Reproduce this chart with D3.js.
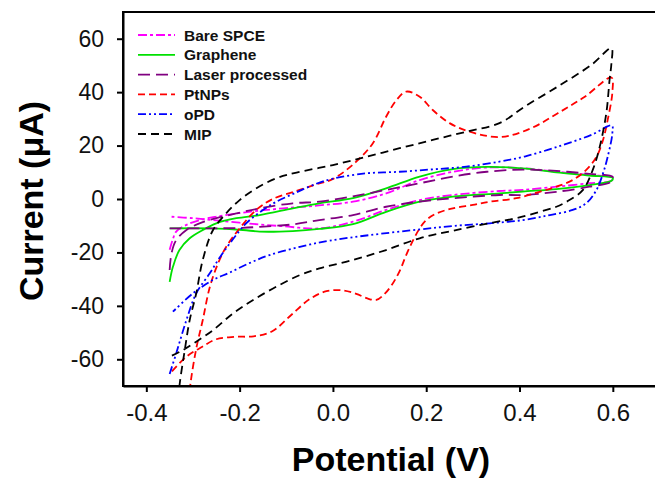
<!DOCTYPE html>
<html>
<head>
<meta charset="utf-8">
<script src="https://cdn.jsdelivr.net/npm/d3@7"></script>
<style>
  body { margin: 0; background: #fff; }
  svg { display: block; font-family: "Liberation Sans", Arial, sans-serif; }
  .axis text { font-size: 23px; fill: #111; }
  .axis path, .axis line { stroke: #000; stroke-width: 2px; }
  .title { font-size: 34px; font-weight: bold; fill: #000; }
  .legend text { font-size: 15.5px; font-weight: bold; fill: #111; }
</style>
</head>
<body>
<div id="root"></div>
<script>
const WIDTH = 655;
const HEIGHT = 486;

// Potential (V), current (uA); each loop: upper branch left->right, then back along lower branch
const bareSPCE = [
  [-0.35,-19],[-0.343,-15],[-0.336,-12.2],[-0.314,-9.7],[-0.286,-7.9],[-0.25,-6.6],[-0.18,-4.8],
  [-0.107,-3.5],[-0.03,-2.4],[0.043,-1.0],[0.114,2.1],[0.186,7.1],[0.257,10.2],[0.33,11.8],
  [0.407,11.5],[0.479,10.2],[0.55,9.0],[0.6,8.0],
  [0.597,6.8],[0.55,5.9],[0.479,4.6],[0.407,3.4],[0.357,3.0],[0.257,1.5],[0.186,-0.4],[0.114,-4.1],
  [0.043,-8.5],[-0.029,-11],[-0.107,-10.2],[-0.18,-9.2],[-0.25,-8],[-0.3,-7.2],[-0.35,-6.6]
];
const graphene = [
  [-0.35,-31],[-0.343,-25.4],[-0.329,-19.1],[-0.307,-14.7],[-0.279,-11.6],[-0.25,-9.1],[-0.207,-7.2],
  [-0.157,-6],[-0.086,-3.5],[-0.029,-1.6],[0.043,0.3],[0.114,4.0],[0.186,8.4],[0.257,11.2],[0.33,12],
  [0.407,11.5],[0.479,10.0],[0.55,8.8],[0.6,7.8],
  [0.597,6.8],[0.55,5.2],[0.479,3.7],[0.407,2.8],[0.357,2.1],[0.257,0.9],[0.186,-1.0],[0.114,-4.8],
  [0.043,-9.4],[-0.029,-11.2],[-0.086,-12],[-0.157,-12.2],[-0.193,-11.6],[-0.264,-11],[-0.35,-11]
];
const laserProcessed = [
  [-0.35,-26.6],[-0.346,-20.3],[-0.336,-15.4],[-0.314,-11.6],[-0.286,-9.1],[-0.25,-7.2],[-0.207,-5.4],
  [-0.157,-3.5],[-0.086,-1.6],[-0.029,-1.0],[0.043,1.0],[0.114,3.4],[0.186,5.9],[0.257,8.4],[0.33,10.2],
  [0.407,11.0],[0.479,10.5],[0.55,9.4],[0.6,8.2],
  [0.597,6.5],[0.55,4.6],[0.479,2.7],[0.407,1.5],[0.357,1.5],[0.257,0.3],[0.186,-1.0],[0.114,-2.9],
  [0.043,-6.0],[-0.029,-7.9],[-0.086,-9.5],[-0.157,-10.4],[-0.193,-10.8],[-0.264,-11],[-0.35,-11]
];
const ptNPs = [
  [-0.311,-80],[-0.306,-70],[-0.293,-56],[-0.279,-45.3],[-0.264,-33],[-0.246,-24],[-0.229,-18],
  [-0.2,-11],[-0.164,-4],[-0.129,0],[-0.078,3],[-0.036,5.5],[0.0,7.5],[0.05,14],[0.086,21],
  [0.114,30.8],[0.136,37],[0.157,40.2],[0.186,38.3],[0.214,33.3],[0.25,28.4],[0.293,25.2],
  [0.36,23.2],[0.425,26.5],[0.482,32.1],[0.54,38.3],[0.597,45.5],
  [0.599,40],[0.589,29.6],[0.579,22.1],[0.565,15.8],[0.543,10.9],[0.514,7.1],[0.479,4.6],
  [0.443,2.7],[0.393,0.3],[0.336,-1.0],[0.3,-2.2],[0.257,-3.5],[0.222,-5.4],[0.2,-7.9],
  [0.186,-11],[0.172,-15.4],[0.157,-21],[0.143,-27],[0.125,-32.5],[0.108,-36],[0.093,-37.8],
  [0.075,-37.3],[0.05,-35.5],[0.021,-34.2],[-0.014,-34.5],[-0.05,-37.5],[-0.09,-43.5],
  [-0.13,-49.5],[-0.17,-51.4],[-0.21,-51.6],[-0.25,-52.5],[-0.28,-55.3],[-0.314,-59],[-0.35,-65.5]
];
const oPD = [
  [-0.35,-65.5],[-0.336,-57.8],[-0.314,-45.3],[-0.293,-35.3],[-0.264,-27.8],[-0.243,-22],[-0.214,-15],
  [-0.186,-9.1],[-0.15,-4.1],[-0.121,-1.0],[-0.078,2.5],[-0.036,5.7],[0.0,7.6],[0.071,9.6],[0.143,10.2],
  [0.214,11.1],[0.286,12.1],[0.357,14.0],[0.411,15.9],[0.482,19.6],[0.554,24],[0.598,27.5],
  [0.599,24.6],[0.589,15.8],[0.579,9.6],[0.565,3.4],[0.543,-1.6],[0.514,-4.1],[0.465,-6.0],
  [0.407,-7.9],[0.336,-9.1],[0.257,-10.1],[0.186,-11.4],[0.079,-13.5],[-0.007,-15.6],[-0.071,-17.9],
  [-0.136,-21],[-0.179,-24],[-0.221,-27.5],[-0.257,-30.3],[-0.3,-35.3],[-0.343,-42.2]
];
const mip = [
  [-0.333,-80],[-0.329,-70],[-0.318,-57],[-0.307,-45.3],[-0.293,-35.3],[-0.279,-22.8],[-0.257,-11.6],
  [-0.229,-5.4],[-0.2,-0.4],[-0.164,4.0],[-0.121,7.8],[-0.078,9.9],[0.0,12.7],[0.071,15.8],[0.143,19.0],
  [0.214,22.1],[0.286,25.2],[0.357,28.4],[0.411,34.6],[0.482,42.1],[0.554,50.2],[0.597,56.4],
  [0.597,50.8],[0.593,44.6],[0.586,32.1],[0.572,19.6],[0.557,10.9],[0.536,3.4],[0.507,-0.4],
  [0.479,-2.9],[0.443,-4.8],[0.393,-7.2],[0.343,-8.8],[0.257,-11.9],[0.186,-14.7],[0.114,-19.1],
  [0.043,-22.8],[-0.029,-26],[-0.071,-28.5],[-0.121,-32.8],[-0.171,-37.8],[-0.214,-42.8],
  [-0.257,-49.1],[-0.293,-53.4],[-0.322,-56.6],[-0.35,-59]
];

const seriesNames = ['Bare SPCE', 'Graphene', 'Laser processed', 'PtNPs', 'oPD', 'MIP'];
const seriesData = [bareSPCE, graphene, laserProcessed, ptNPs, oPD, mip];
const seriesColors = ['#ff00ff', '#00e000', '#800080', '#ff0000', '#0000ff', '#000000'];
const seriesDash = ['9,3,3,3', null, '12,6', '7,4', '8,3,2,3,2,3', '8,5'];
const xTicks = [-0.4, -0.2, 0.0, 0.2, 0.4, 0.6];
const yTicks = [-60, -40, -20, 0, 20, 40, 60];

const plot = { left: 123, top: 12, bottom: 386 };

const x = d3.scaleLinear().domain([-0.45, 0.7]).range([plot.left, plot.left + 1.15 * 466.5]);
const y = d3.scaleLinear().domain([-70, 70]).range([plot.bottom, plot.top]);

const svg = d3.select('#root').append('svg')
    .attr('width', WIDTH)
    .attr('height', HEIGHT);

svg.append('clipPath')
    .attr('id', 'clip')
  .append('rect')
    .attr('x', x.range()[0])
    .attr('y', plot.top)
    .attr('width', x.range()[1] - x.range()[0])
    .attr('height', plot.bottom - plot.top);

const line = d3.line()
    .x(d => x(d[0]))
    .y(d => y(d[1]))
    .curve(d3.curveCatmullRom.alpha(0.5));

svg.append('g')
    .attr('clip-path', 'url(#clip)')
  .selectAll('path')
    .data(seriesData)
  .enter().append('path')
    .attr('d', line)
    .attr('fill', 'none')
    .attr('stroke', (d, i) => seriesColors[i])
    .attr('stroke-width', 1.8)
    .attr('stroke-dasharray', (d, i) => seriesDash[i]);

// frame (right edge falls outside the picture)
svg.append('rect')
    .attr('x', x.range()[0])
    .attr('y', plot.top)
    .attr('width', x.range()[1] - x.range()[0])
    .attr('height', plot.bottom - plot.top)
    .attr('fill', 'none')
    .attr('stroke', '#000')
    .attr('stroke-width', 2);

svg.append('g')
    .attr('class', 'axis axis--x')
    .attr('transform', `translate(0, ${plot.bottom})`)
    .call(d3.axisBottom(x).tickValues(xTicks).tickFormat(d => d.toFixed(1)).tickSize(6).tickSizeOuter(0).tickPadding(12))
    .call(g => g.selectAll('text').style('font-size', '24px'));

svg.append('g')
    .attr('class', 'axis axis--y')
    .attr('transform', `translate(${plot.left}, 0)`)
    .call(d3.axisLeft(y).tickValues(yTicks).tickFormat(d => String(d)).tickSize(6).tickSizeOuter(0).tickPadding(13));

svg.append('text')
    .attr('class', 'title')
    .attr('x', 391)
    .attr('y', 471)
    .style('text-anchor', 'middle')
    .text('Potential (V)');

svg.append('text')
    .attr('class', 'title')
    .attr('transform', 'translate(43, 201) rotate(-90)')
    .style('text-anchor', 'middle')
    .text('Current (\u03bcA)');

const legend = svg.selectAll('.legend')
    .data(seriesNames)
  .enter().append('g')
    .attr('class', 'legend')
    .attr('transform', (d, i) => `translate(0, ${35 + i * 19.8})`);

legend.append('line')
    .attr('x1', 138)
    .attr('x2', 175)
    .attr('stroke', (d, i) => seriesColors[i])
    .attr('stroke-width', 1.8)
    .attr('stroke-dasharray', (d, i) => seriesDash[i]);

legend.append('text')
    .attr('x', 184)
    .attr('dy', '0.36em')
    .text(d => d);
</script>
</body>
</html>
